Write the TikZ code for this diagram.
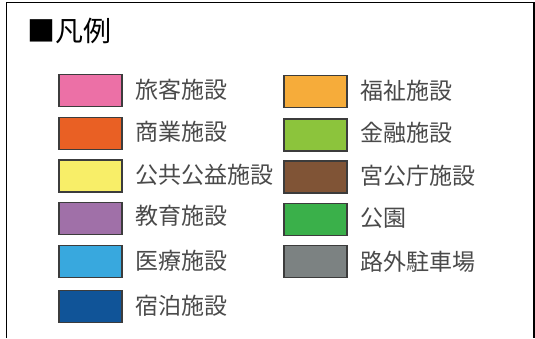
\documentclass[tikz,border=0pt]{standalone}
\usepackage{fontspec}
\setmainfont{Noto Sans CJK JP}
\definecolor{txt}{HTML}{4A4A4A}
\definecolor{edge}{HTML}{3C3C3C}
\tikzset{
  x=1pt,y=-1pt,
  swatch/.style={draw=edge,line width=1.8pt,minimum width=63.5pt,minimum height=32pt,inner sep=0pt,outer sep=0pt},
  lab/.style={anchor=west,inner sep=0pt,text=txt,font=\fontsize{23pt}{24pt}\selectfont},
  frameline/.style={draw=black,line width=1.3pt}
}
\begin{document}
\begin{tikzpicture}
\useasboundingbox (0,0) rectangle (535,338);
\fill[white] (0,0) rectangle (535,338);
\coordinate (fa) at (6.8,338);
\coordinate (fb) at (6.8,2.6);
\coordinate (fc) at (534,2.6);
\coordinate (fd) at (534,338);
\draw[frameline] (fa) -- (fb) -- (fc) -- (fd);
\node[anchor=west,inner sep=0pt,text=black,font=\fontsize{28pt}{29pt}\selectfont] (title) at (27.5,31) {■凡例};
\node[swatch,fill={rgb,255:red,236;green,112;blue,166}] (s1) at (90.5,90.5) {};
\node[swatch,fill={rgb,255:red,233;green,96;blue,36}] (s2) at (90.5,133.5) {};
\node[swatch,fill={rgb,255:red,248;green,238;blue,104}] (s3) at (90.5,176) {};
\node[swatch,fill={rgb,255:red,160;green,112;blue,168}] (s4) at (90.5,218.5) {};
\node[swatch,fill={rgb,255:red,56;green,168;blue,222}] (s5) at (90.5,261.5) {};
\node[swatch,fill={rgb,255:red,16;green,84;blue,152}] (s6) at (90.5,306.5) {};
\node[swatch,fill={rgb,255:red,246;green,172;blue,58}] (r1) at (315.5,91.5) {};
\node[swatch,fill={rgb,255:red,140;green,196;blue,60}] (r2) at (315.5,135) {};
\node[swatch,fill={rgb,255:red,128;green,84;blue,54}] (r3) at (315.5,177) {};
\node[swatch,fill={rgb,255:red,58;green,176;blue,74}] (r4) at (315.5,219.5) {};
\node[swatch,fill={rgb,255:red,124;green,130;blue,130}] (r5) at (315.5,261.5) {};
\node[lab] (t1) at (135,89.5) {旅客施設};
\node[lab] (t2) at (135,131.5) {商業施設};
\node[lab] (t3) at (135,174.5) {公共公益施設};
\node[lab] (t4) at (135,216) {教育施設};
\node[lab] (t5) at (135,261) {医療施設};
\node[lab] (t6) at (135,306) {宿泊施設};
\node[lab] (u1) at (360,90.5) {福祉施設};
\node[lab] (u2) at (360,133) {金融施設};
\node[lab] (u3) at (360,176) {宮公庁施設};
\node[lab] (u4) at (360,218) {公園};
\node[lab] (u5) at (360,261.5) {路外駐車場};
\end{tikzpicture}
\end{document}
